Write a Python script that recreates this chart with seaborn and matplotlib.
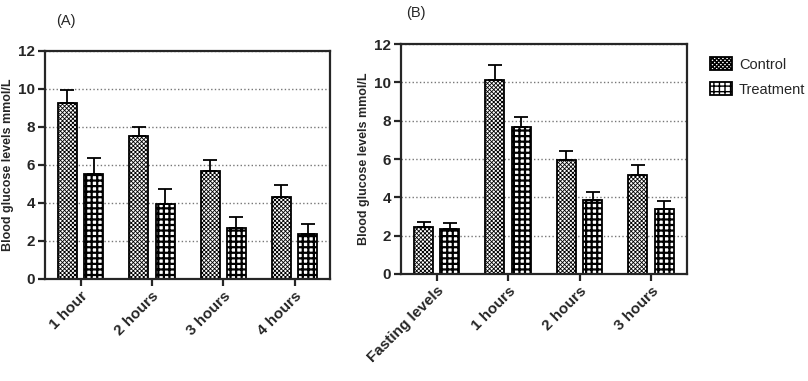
import numpy as np
import pandas as pd
import seaborn as sns
import matplotlib.pyplot as plt
from matplotlib.patches import Patch

# panel A data
times_a = ["1 hour", "2 hours", "3 hours", "4 hours"]
control_a = [9.25, 7.53, 5.65, 4.33]
control_a_err = [0.70, 0.47, 0.60, 0.62]
treat_a = [5.53, 3.93, 2.65, 2.37]
treat_a_err = [0.85, 0.82, 0.60, 0.52]

# panel B data
times_b = ["Fasting levels", "1 hours", "2 hours", "3 hours"]
control_b = [2.46, 10.12, 5.94, 5.17]
control_b_err = [0.26, 0.78, 0.47, 0.54]
treat_b = [2.37, 7.68, 3.87, 3.40]
treat_b_err = [0.28, 0.54, 0.40, 0.40]

groups = ["Control", "Treatment"]
hatches = ["xxxxxxxx", "+++"]
hatch_lw = [0.6, 1.6]

sns.set_style("ticks")
plt.rcParams['font.family'] = ['Liberation Sans', 'DejaVu Sans']
plt.rcParams['hatch.color'] = 'black'


def draw_panel(ax, times, ctrl, ctrl_err, trt, trt_err):
    df = pd.DataFrame({
        "time": times * 2,
        "value": ctrl + trt,
        "group": [groups[0]] * len(times) + [groups[1]] * len(times),
    })
    sns.barplot(data=df, x="time", y="value", hue="group", order=times,
                hue_order=groups, palette=["white", "white"], width=0.74,
                gap=0.28, edgecolor="black", linewidth=1.3, errorbar=None,
                legend=False, ax=ax)
    errs = [ctrl_err, trt_err]
    bar_conts = list(ax.containers)[:2]
    for i, cont in enumerate(bar_conts):
        xs, ys = [], []
        for bar in cont:
            bar.set_hatch(hatches[i])
            try:
                bar.set_hatch_linewidth(hatch_lw[i])
            except AttributeError:
                pass
            xs.append(bar.get_x() + bar.get_width() / 2)
            ys.append(bar.get_height())
        ax.errorbar(xs, ys, yerr=[np.zeros(len(xs)), errs[i]], fmt="none",
                    ecolor="black", elinewidth=1.3, capsize=5, capthick=1.3,
                    zorder=3)
    ax.set_ylim(0, 12)
    ax.set_yticks([0, 2, 4, 6, 8, 10, 12])
    ax.set_axisbelow(True)
    ax.yaxis.grid(True, linestyle=":", color="#777777", linewidth=1)
    for s in ax.spines.values():
        s.set_linewidth(1.6)
    ax.tick_params(axis="both", width=1.6, length=5, labelsize=11, pad=2)
    for lab in ax.get_yticklabels():
        lab.set_fontweight("bold")
    ax.set_xticks(range(len(times)))
    ax.set_xticklabels(times, rotation=45, ha="right", rotation_mode="anchor",
                       fontweight="bold", fontsize=11)
    ax.set_xlabel("")
    ax.set_ylabel("Blood glucose levels mmol/L", fontweight="bold",
                  fontsize=9, labelpad=3)


fig = plt.figure(figsize=(8.08, 3.81), dpi=100)
ax_a = fig.add_axes([0.0557, 0.268, 0.353, 0.599])
ax_b = fig.add_axes([0.4963, 0.281, 0.3537, 0.603])

draw_panel(ax_a, times_a, control_a, control_a_err, treat_a, treat_a_err)
draw_panel(ax_b, times_b, control_b, control_b_err, treat_b, treat_b_err)

fig.text(0.070, 0.935, "(A)", fontsize=10.5)
fig.text(0.503, 0.955, "(B)", fontsize=10.5)

handles = []
for i, g in enumerate(groups):
    p = Patch(facecolor="white", edgecolor="black", hatch=hatches[i],
              linewidth=1.3, label=g)
    try:
        p.set_hatch_linewidth(hatch_lw[i])
    except AttributeError:
        pass
    handles.append(p)
ax_b.legend(handles=handles, loc="upper left", bbox_to_anchor=(1.035, 1.0),
            frameon=False, fontsize=10.5, handlelength=1.5, handleheight=1.0,
            labelspacing=0.7, handletextpad=0.5)

plt.savefig("out.png", dpi=100)
plt.close()
